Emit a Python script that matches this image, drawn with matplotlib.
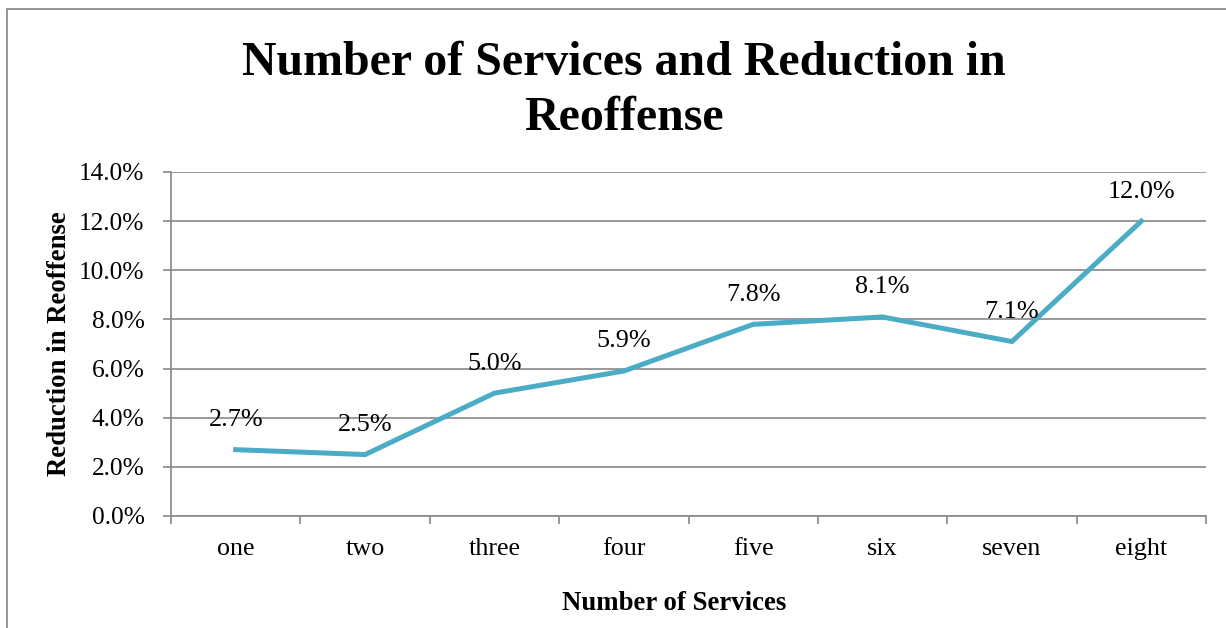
import matplotlib.pyplot as plt
from matplotlib.patches import Rectangle
from matplotlib.ticker import FixedLocator, FuncFormatter

services = ['one', 'two', 'three', 'four', 'five', 'six', 'seven', 'eight']
reduction = [2.7, 2.5, 5.0, 5.9, 7.8, 8.1, 7.1, 12.0]
yticks = [0, 2, 4, 6, 8, 10, 12, 14]

plt.rcParams['font.family'] = ['Liberation Serif', 'DejaVu Serif']
grey = '#8c8c8c'

W, H = 1226, 628
fig = plt.figure(figsize=(W / 100, H / 100), dpi=100)
ax = fig.add_axes([171 / W, 1 - 516 / H, (1206 - 171) / W, (516 - 172) / H])

x = list(range(1, len(services) + 1))
ax.plot(x, reduction, color='#4bacc6', lw=3.6, solid_joinstyle='miter')

for xi, v in zip(x, reduction):
    ax.annotate('%.1f%%' % v, (xi, v), xytext=(0, 17), textcoords='offset points',
                ha='center', va='baseline', fontsize=18.8)

ax.set_xlim(0.5, len(services) + 0.5)
ax.set_ylim(0, 14)
ax.set_yticks(yticks)
ax.yaxis.set_major_formatter(FuncFormatter(lambda v, p: '%.1f%%' % v))

# boundary ticks without labels, labels centred on categories
ax.xaxis.set_major_locator(FixedLocator([i + 0.5 for i in range(len(services) + 1)]))
ax.xaxis.set_major_formatter(FuncFormatter(lambda v, p: ''))
ax.xaxis.set_minor_locator(FixedLocator(x))
ax.set_xticks(x, services, minor=True)
ax.tick_params(axis='x', which='major', length=6, width=1.25, color=grey)
ax.tick_params(axis='x', which='minor', length=0, pad=16, labelsize=18.8)
ax.tick_params(axis='y', length=6, width=1.25, color=grey, pad=13, labelsize=18.3)

ax.grid(axis='y', color=grey, lw=1.25)
ax.set_axisbelow(True)
for s in ['top', 'right']:
    ax.spines[s].set_visible(False)
for s in ['left', 'bottom']:
    ax.spines[s].set_color(grey)
    ax.spines[s].set_linewidth(1.25)

fig.text(624 / W, 1 - 75 / H, 'Number of Services and Reduction in',
         ha='center', va='baseline', fontsize=34.5, fontweight='bold')
fig.text(624 / W, 1 - 130 / H, 'Reoffense',
         ha='center', va='baseline', fontsize=34.5, fontweight='bold')
fig.text(674 / W, 1 - 604 / H, 'Number of Services', ha='center', va='center',
         fontsize=19.3, fontweight='bold')
fig.text(60 / W, 1 - 344 / H, 'Reduction in Reoffense', ha='center', va='center',
         rotation=90, fontsize=19.3, fontweight='bold')

fig.patches.append(Rectangle((7 / W, -0.5), 2, 1.5 - 9 / H, transform=fig.transFigure,
                             fill=False, edgecolor=grey, lw=1.3))

fig.savefig('out.png', dpi=100)
